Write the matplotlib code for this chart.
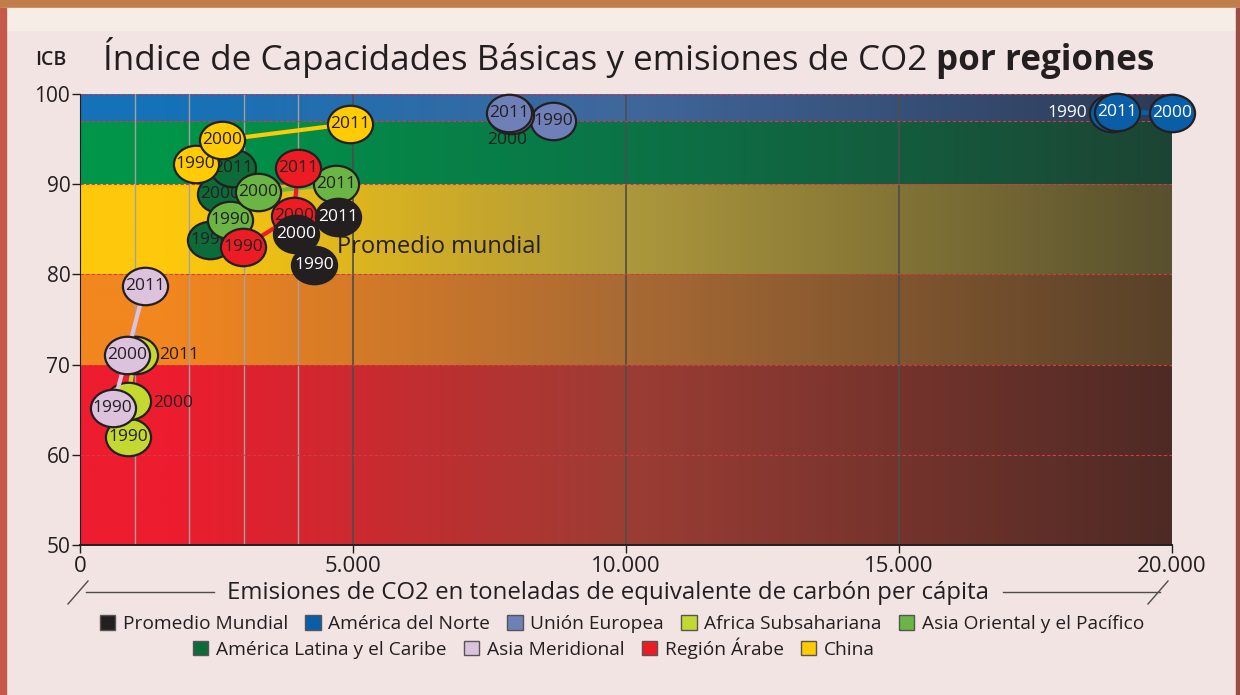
import matplotlib
matplotlib.use("Agg")
import matplotlib.pyplot as plt
import numpy as np
from matplotlib.path import Path
from matplotlib.markers import MarkerStyle
from matplotlib.transforms import Affine2D
from matplotlib.patches import Patch, Rectangle
from matplotlib.lines import Line2D

plt.rcParams['font.family'] = ['Open Sans', 'DejaVu Sans']

# datos
years = ["1990", "2000", "2011"]
regions = ["Promedio Mundial", "América del Norte", "Unión Europea", "Africa Subsahariana",
           "Asia Oriental y el Pacífico", "América Latina y el Caribe", "Asia Meridional",
           "Región Árabe", "China"]
co2 = {
    "América Latina y el Caribe": [2380, 2570, 2800],
    "Asia Oriental y el Pacífico": [2750, 3260, 4690],
    "China": [2120, 2600, 4950],
    "Región Árabe": [2990, 3920, 3990],
    "Promedio Mundial": [4290, 3960, 4730],
    "Africa Subsahariana": [880, 870, 1010],
    "Asia Meridional": [600, 860, 1190],
    "Unión Europea": [8670, 7900, 7860],
    "América del Norte": [18900, 20000, 19000],
}
icb = {
    "América Latina y el Caribe": [83.8, 88.9, 91.8],
    "Asia Oriental y el Pacífico": [86.0, 89.1, 90.0],
    "China": [92.2, 94.9, 96.7],
    "Región Árabe": [83.0, 86.5, 91.8],
    "Promedio Mundial": [81.0, 84.5, 86.4],
    "Africa Subsahariana": [62.0, 66.0, 71.1],
    "Asia Meridional": [65.2, 71.1, 78.7],
    "Unión Europea": [97.0, 97.7, 97.9],
    "América del Norte": [97.9, 97.9, 98.0],
}
xticks = [0, 5000, 10000, 15000, 20000]
xticklabels = ["0", "5.000", "10.000", "15.000", "20.000"]
yticks = [50, 60, 70, 80, 90, 100]

colors = {
    "Promedio Mundial": "#231f20",
    "América del Norte": "#0a5ea8",
    "Unión Europea": "#6f80b9",
    "Africa Subsahariana": "#c3d932",
    "Asia Oriental y el Pacífico": "#6bb545",
    "América Latina y el Caribe": "#0d6b3a",
    "Asia Meridional": "#dcc2dd",
    "Región Árabe": "#ed1c24",
    "China": "#ffcb05",
}
white_text = ["Promedio Mundial", "América del Norte"]
draw_order = ["América Latina y el Caribe", "Asia Oriental y el Pacífico", "China",
              "Región Árabe", "Promedio Mundial", "Africa Subsahariana", "Asia Meridional",
              "Unión Europea", "América del Norte"]
# etiquetas fuera del circulo (offset en puntos)
label_offsets = {
    ("Africa Subsahariana", 1): (33, -2),
    ("Africa Subsahariana", 2): (32, 0),
    ("Unión Europea", 1): (-3, -18),
    ("América del Norte", 0): (-32, 0),
}

# bandas de fondo: (min, max, color izq, color medio, color der)
bands = [
    (50, 70, "#ed1c2e", "#9c3d34", "#4e2a25"),
    (70, 80, "#f2861f", "#a96a34", "#584129"),
    (80, 90, "#fec90c", "#ad983c", "#58502f"),
    (90, 97, "#009549", "#0b7447", "#1d4434"),
    (97, 100, "#1572b8", "#40679c", "#2e3a55"),
]

W, H = 1240, 695
fig = plt.figure(figsize=(W / 100, H / 100), dpi=100, facecolor="#f2e4e2")

# marcos decorativos
fig.patches.append(Rectangle((0, 1 - 8 / H), 1, 8 / H, transform=fig.transFigure,
                             color="#c07f4a", zorder=0))
fig.patches.append(Rectangle((0, 1 - 30 / H), 1, 22 / H, transform=fig.transFigure,
                             color="#f6ede6", zorder=0))
fig.patches.append(Rectangle((0, 0), 6 / W, 1 - 8 / H, transform=fig.transFigure,
                             color="#c5594a", zorder=0))
fig.patches.append(Rectangle((1236 / W, 0), 4 / W, 1 - 8 / H, transform=fig.transFigure,
                             color="#9a4d42", zorder=0))

ax = fig.add_axes([80 / W, 1 - 545 / H, 1092 / W, 451 / H])
ax.set_xlim(0, 20000)
ax.set_ylim(50, 100)

for lo, hi, c0, c1, c2 in bands:
    cols = np.array([matplotlib.colors.to_rgb(c) for c in (c0, c0, c1, c2)])
    pos = np.array([0, 0.08, 0.5, 1.0])
    xs = np.linspace(0, 1, 400)
    grad = np.stack([np.interp(xs, pos, cols[:, k]) for k in range(3)], axis=-1)
    ax.imshow(grad[np.newaxis, :, :], extent=[0, 20000, lo, hi], aspect="auto",
              interpolation="bilinear", zorder=0)

for xv in [1000, 2000, 3000, 4000]:
    ax.axvline(xv, color="#a5a0a0", lw=1, zorder=1)
for xv in [5000, 10000, 15000]:
    ax.axvline(xv, color="#4d4d4d", lw=1.2, zorder=1)
ax.axvline(20000, color="#9a9090", lw=0.8, ls=(0, (2, 2)), zorder=1)
for yv in [60, 70, 80, 90, 97, 100]:
    ax.axhline(yv, color="#d33a45", lw=0.8, ls=(0, (3, 2)), zorder=1)

ellipse = Path(Affine2D().scale(1, 0.83).transform(Path.unit_circle().vertices),
               Path.unit_circle().codes)
emarker = MarkerStyle(ellipse)

z = 3
for reg in draw_order:
    xs = co2[reg]
    ys = icb[reg]
    ax.plot(xs, ys, color=colors[reg], lw=3, zorder=z, solid_capstyle="butt")
    z += 0.1
    for i, yr in enumerate(years):
        ax.plot([xs[i]], [ys[i]], marker=emarker, markersize=32.5, color=colors[reg],
                markeredgecolor="#231f20", markeredgewidth=1.6, zorder=z, clip_on=False)
        tc = "white" if reg in white_text else "#231f20"
        off = label_offsets.get((reg, i), (0, 0))
        ax.annotate(yr, (xs[i], ys[i]), xytext=off, textcoords="offset points",
                    ha="center", va="center", fontsize=12.5, color=tc,
                    zorder=z + 0.05, annotation_clip=False)
        z += 0.1

ax.text(4700, 83.0, "Promedio mundial", fontsize=17, color="#231f20",
        ha="left", va="center", zorder=2)

for s in ["top", "right"]:
    ax.spines[s].set_visible(False)
ax.spines["left"].set_color("#231f20")
ax.spines["bottom"].set_color("#231f20")
ax.spines["bottom"].set_linewidth(1.4)
ax.spines["left"].set_zorder(2)
ax.spines["bottom"].set_zorder(2)
ax.set_xticks(xticks)
ax.set_xticklabels(xticklabels)
ax.set_yticks(yticks)
ax.tick_params(axis="both", colors="#231f20", length=6, width=1, pad=1)
ax.tick_params(axis="y", labelsize=15)
ax.tick_params(axis="x", labelsize=16, pad=2)

# titulo
t1 = fig.text(103 / W, 1 - 70 / H, "Índice de Capacidades Básicas y emisiones de CO2 ",
              fontsize=25.2, color="#231f20", ha="left", va="baseline")
fig.canvas.draw()
bb = t1.get_window_extent(fig.canvas.get_renderer())
fig.text(bb.x1 / W, 1 - 70 / H, "por regiones", fontsize=25.2, fontweight="bold",
         color="#231f20", ha="left", va="baseline")
fig.text(51 / W, 1 - 60 / H, "ICB", fontsize=14, fontweight="semibold",
         color="#231f20", ha="center", va="center")

# titulo eje x con lineas
fig.text(608 / W, 1 - 593 / H, "Emisiones de CO2 en toneladas de equivalente de carbón per cápita",
         fontsize=17.3, color="#231f20", ha="center", va="center")
for x0, x1 in [(86, 214), (1003, 1160)]:
    fig.add_artist(Line2D([x0 / W, x1 / W], [1 - 592 / H, 1 - 592 / H],
                          transform=fig.transFigure, color="#4d4d4d", lw=1))
for xc in [78, 1158]:
    fig.add_artist(Line2D([(xc - 10) / W, (xc + 10) / W], [1 - 604 / H, 1 - 581 / H],
                          transform=fig.transFigure, color="#4d4d4d", lw=1))

# leyenda en dos filas
def handles(names):
    return [Patch(facecolor=colors[n], edgecolor="#555555", lw=1, label=n) for n in names]

leg1 = fig.legend(handles=handles(regions[:5]), loc="center", ncol=5,
                  bbox_to_anchor=(622 / W, 1 - 624 / H), frameon=False, fontsize=13.8,
                  handlelength=0.8, handleheight=0.8, handletextpad=0.4, columnspacing=0.9,
                  borderpad=0)
leg2 = fig.legend(handles=handles(regions[5:]), loc="center", ncol=4,
                  bbox_to_anchor=(534 / W, 1 - 648 / H), frameon=False, fontsize=13.8,
                  handlelength=0.8, handleheight=0.8, handletextpad=0.4, columnspacing=0.9,
                  borderpad=0)
for leg in (leg1, leg2):
    for txt in leg.get_texts():
        txt.set_color("#231f20")

fig.savefig("out.png", dpi=100, facecolor=fig.get_facecolor())
